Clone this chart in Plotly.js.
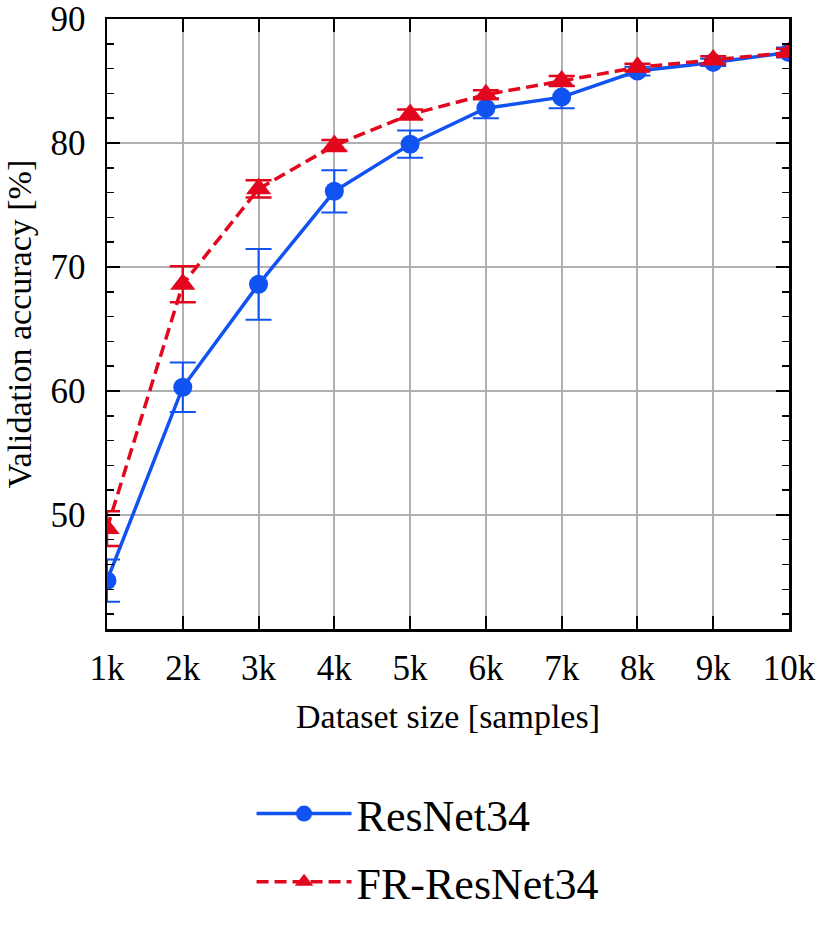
<!DOCTYPE html>
<html>
<head>
<meta charset="utf-8">
<script src="https://cdn.plot.ly/plotly-3.0.1.min.js"></script>
<style>
  html, body { margin: 0; padding: 0; background: #fff; }
  #graf { width: 830px; height: 930px; }
</style>
</head>
<body>
<div id="graf"></div>
<script>
// dataset size in thousands of samples
let sizes = [1, 2, 3, 4, 5, 6, 7, 8, 9, 10];
let sizeLabels = ['1k', '2k', '3k', '4k', '5k', '6k', '7k', '8k', '9k', '10k'];

// validation accuracy [%] and its spread
let resnetAcc = [44.7, 60.3, 68.6, 76.1, 79.9, 82.8, 83.7, 85.8, 86.5, 87.3];
let resnetErr = [1.7, 2.0, 2.85, 1.7, 1.1, 0.8, 0.9, 0.35, 0.3, 0.4];
let frAcc = [48.9, 68.6, 76.3, 79.8, 82.3, 83.9, 85.0, 86.1, 86.7, 87.3];
let frErr = [1.4, 1.45, 0.7, 0.45, 0.4, 0.35, 0.4, 0.3, 0.3, 0.3];

let blue = '#1153F2';
let red = '#E2071C';
let serif = 'Liberation Serif';

trace1 = {
    x: sizes,
    y: resnetAcc,
    type: 'scatter',
    mode: 'lines+markers',
    name: 'ResNet34',
    legendgroup: 'a',
    line: { color: blue, width: 3.5 },
    marker: { color: blue, size: 19, symbol: 'circle' },
    error_y: { type: 'data', array: resnetErr, color: blue, thickness: 2, width: 13 }
};

trace2 = {
    x: sizes,
    y: frAcc,
    type: 'scatter',
    mode: 'lines+markers',
    name: 'FR-ResNet34',
    legendgroup: 'b',
    line: { color: red, width: 3.5, dash: '12px,6px' },
    marker: { color: red, size: 22, symbol: 'triangle-up' },
    error_y: { type: 'data', array: frErr, color: red, thickness: 2.5, width: 13 }
};

let axisCommon = {
    showline: true,
    linecolor: '#000',
    linewidth: 2.5,
    mirror: 'ticks',
    ticks: 'inside',
    ticklen: 13,
    tickwidth: 2,
    tickcolor: '#000',
    showgrid: true,
    gridcolor: '#b0b0b0',
    gridwidth: 2,
    zeroline: false,
    automargin: false,
    tickfont: { family: serif, size: 35, color: '#000' }
};

let layout = {
    width: 830,
    height: 930,
    margin: { l: 107, r: 41, t: 19, b: 298 },
    paper_bgcolor: '#fff',
    plot_bgcolor: '#fff',
    font: { family: serif, color: '#000' },
    showlegend: true,
    xaxis: Object.assign({}, axisCommon, {
        range: [1, 10],
        tickvals: sizes,
        ticktext: sizeLabels,
        ticklabelstandoff: 6,
        title: { text: 'Dataset size [samples]', font: { family: serif, size: 34, color: '#000' }, standoff: 18 }
    }),
    yaxis: Object.assign({}, axisCommon, {
        range: [40.8, 90],
        tick0: 0,
        dtick: 10,
        ticklabelstandoff: 12,
        minor: { dtick: 2, tick0: 0, ticks: 'inside', ticklen: 7, tickwidth: 1.5, tickcolor: '#000', showgrid: false },
        title: { text: 'Validation accuracy [%]', font: { family: serif, size: 34, color: '#000' }, standoff: 9 }
    }),
    legend: {
        x: 0.47,
        xanchor: 'center',
        y: -0.245,
        yanchor: 'top',
        orientation: 'v',
        traceorder: 'grouped',
        tracegroupgap: 8,
        itemwidth: 95,
        font: { family: serif, size: 44, color: '#000' },
        bgcolor: 'rgba(0,0,0,0)'
    }
};

graf = document.getElementById('graf');
graph = [trace1, trace2];
Plotly.newPlot(graf, graph, layout, { displayModeBar: false, staticPlot: true });
</script>
</body>
</html>
